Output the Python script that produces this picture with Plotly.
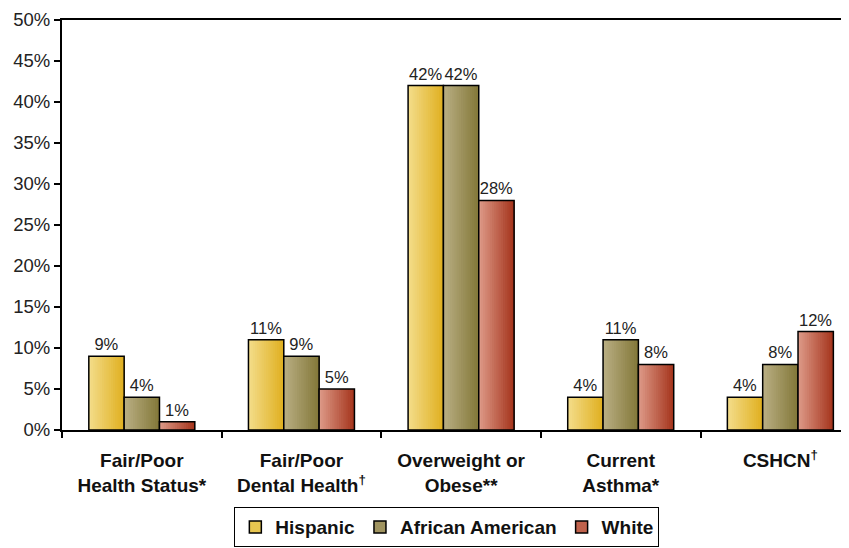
import plotly.graph_objects as go

categories = ["Fair/Poor<br>Health Status*", "Fair/Poor<br>Dental Health<sup>†</sup>",
              "Overweight or<br>Obese**", "Current<br>Asthma*", "CSHCN<sup>†</sup>"]
series_names = ["Hispanic", "African American", "White"]
hispanic = [9, 11, 42, 4, 4]
african_american = [4, 9, 42, 11, 8]
white = [1, 5, 28, 8, 12]
values = [hispanic, african_american, white]

# gradient colours (left, right) per series
grad = [((0xf3, 0xdc, 0x88), (0xe0, 0xb0, 0x22)),
        ((0xb8, 0xad, 0x82), (0x84, 0x79, 0x3a)),
        ((0xdc, 0x98, 0x86), (0xa6, 0x36, 0x1e))]
legend_cols = ["#e8c650", "#a09460", "#c0624c"]

FONT = "Arial, Liberation Sans, sans-serif"
N = 16
group_w = 0.664
bw = group_w / 3

fig = go.Figure()

def mix(a, b, t):
    return "rgb(%d,%d,%d)" % tuple(round(a[j] + (b[j] - a[j]) * t) for j in range(3))

for i, vals in enumerate(values):
    c0, c1 = grad[i]
    for k in range(N):
        # each slice runs from its own left edge to the bar's right edge,
        # later slices cover earlier ones -> seamless gradient
        fig.add_trace(go.Bar(
            x=categories, y=vals, width=bw * (N - k) / N,
            offset=-group_w / 2 + i * bw + k * bw / N,
            marker=dict(color=mix(c0, c1, k / (N - 1)), line=dict(width=0), opacity=1),
            showlegend=False, hoverinfo="skip"))
    fig.add_trace(go.Bar(
        x=categories, y=vals, width=bw, offset=-group_w / 2 + i * bw,
        marker=dict(color="rgba(0,0,0,0)", line=dict(color="black", width=1.5)),
        text=[f"{v}%" for v in vals], textposition="outside", constraintext="none",
        textfont=dict(family=FONT, size=16.5, color="#222"),
        cliponaxis=False, showlegend=False))

for i, name in enumerate(series_names):
    fig.add_trace(go.Bar(
        x=[categories[0]], y=[None], name=name,
        marker=dict(color=legend_cols[i], line=dict(color="black", width=1.5))))

fig.update_layout(
    width=841, height=540,
    margin=dict(l=54, r=0, t=12, b=118),
    barmode="overlay",
    plot_bgcolor="white", paper_bgcolor="white",
    font=dict(family=FONT, color="#222"),
    xaxis=dict(type="category", tickson="boundaries", ticks="outside", ticklen=6,
               tickcolor="black", tickwidth=1.5, automargin=False,
               showline=True, linecolor="black", linewidth=2, mirror=True,
               range=[-0.5, 4.43], showgrid=False,
               tickfont=dict(family=FONT, size=19, color="#111", weight="bold"),
               ticklabelstandoff=12),
    yaxis=dict(range=[0, 50], dtick=5, ticksuffix="%", ticks="outside", ticklen=6,
               tickcolor="black", tickwidth=1.5, automargin=False,
               showline=True, linecolor="black", linewidth=2, showgrid=False,
               zeroline=False,
               tickfont=dict(family=FONT, size=18.5, color="#222")),
    legend=dict(orientation="h", x=0.489, xanchor="center", y=-0.188, yanchor="top",
                bordercolor="black", borderwidth=1,
                font=dict(family=FONT, size=19, color="#111", weight="bold")),
)

fig.write_html("out.html")
